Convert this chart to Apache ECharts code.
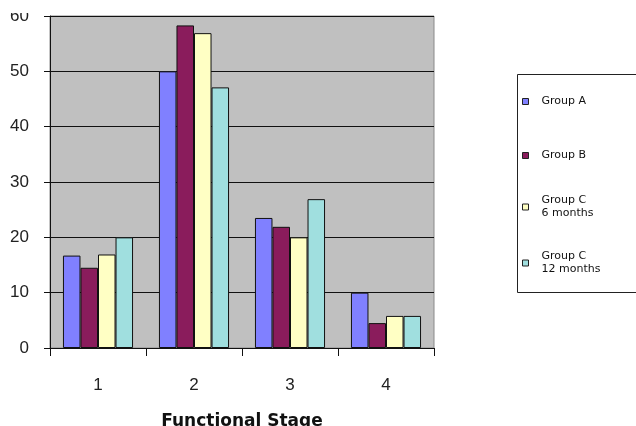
<!DOCTYPE html>
<html>
<head>
<meta charset="utf-8">
<script src="https://cdn.jsdelivr.net/npm/echarts@6/dist/echarts.min.js"></script>
<style>
html,body{margin:0;padding:0;background:#fff;}
#chart{width:636px;height:426px;}
</style>
</head>
<body>
<div id="chart"></div>
<script>
var categories = ['1', '2', '3', '4'];
var groupA = [16.7, 50, 23.5, 10];
var groupB = [14.5, 58.3, 21.9, 4.5];
var groupC6 = [16.9, 56.9, 20, 5.8];
var groupC12 = [20, 47.1, 26.9, 5.8];
var seriesNames = ['Group A', 'Group B', 'Group C\n6 months', 'Group C\n12 months'];
var seriesColors = ['#8080ff', '#8a1c5c', '#ffffc4', '#a0dfdf'];
var yTicks = { min: 0, max: 60, interval: 10 };

var chart = echarts.init(document.getElementById('chart'));
var values = [groupA, groupB, groupC6, groupC12];
var legendTops = [95, 149, 194, 250];

var series = values.map(function (v, i) {
  return {
    name: seriesNames[i],
    type: 'bar',
    data: v,
    barGap: '0%',
    barCategoryGap: '27%',
    itemStyle: { color: seriesColors[i], borderColor: '#111', borderWidth: 1 },
    emphasis: { disabled: true }
  };
});

var legends = seriesNames.map(function (n, i) {
  return {
    data: [n],
    left: 522,
    top: legendTops[i],
    padding: 0,
    icon: 'rect',
    itemWidth: 6,
    itemHeight: 6,
    itemGap: 0,
    selectedMode: false,
    itemStyle: { borderColor: '#222', borderWidth: 1 },
    textStyle: { fontFamily: 'DejaVu Sans', fontSize: 11, color: '#111', lineHeight: 13, padding: [0, 0, 0, 8] }
  };
});

chart.setOption({
  animation: false,
  backgroundColor: '#fff',
  color: seriesColors,
  grid: {
    left: 50, right: 202, top: 16, bottom: 78,
    outerBoundsMode: 'none',
    containLabel: false,
    show: true, backgroundColor: '#c0c0c0', borderColor: '#8a8a8a', borderWidth: 1
  },
  legend: legends,
  graphic: [
    {
      type: 'rect', z: -1, silent: true,
      shape: { x: 517.5, y: 74.5, width: 200, height: 218 },
      style: { fill: '#fff', stroke: '#222', lineWidth: 1 }
    },
    {
      type: 'rect', z: 100, silent: true,
      shape: { x: 0, y: 0, width: 46, height: 13 },
      style: { fill: '#fff' }
    }
  ],
  xAxis: {
    type: 'category',
    data: categories,
    name: 'Functional Stage',
    nameLocation: 'middle',
    nameGap: 65,
    nameTextStyle: { fontFamily: 'DejaVu Sans', fontSize: 17, fontWeight: 'bold', color: '#111' },
    axisLine: { lineStyle: { color: '#111', width: 1 } },
    axisTick: { show: true, length: 8, lineStyle: { color: '#111' } },
    axisLabel: { margin: 29, fontFamily: 'Liberation Sans', fontSize: 17, color: '#222' },
    splitLine: { show: false }
  },
  yAxis: {
    type: 'value',
    min: yTicks.min, max: yTicks.max, interval: yTicks.interval,
    axisLine: { show: true, lineStyle: { color: '#111', width: 1 } },
    axisTick: { show: true, length: 6, lineStyle: { color: '#111' } },
    axisLabel: { margin: 21, fontFamily: 'Liberation Sans', fontSize: 17, color: '#222', padding: [0, 0, 10, 0] },
    splitLine: { show: true, lineStyle: { color: '#111', width: 1 } }
  },
  series: series
});
</script>
</body>
</html>
